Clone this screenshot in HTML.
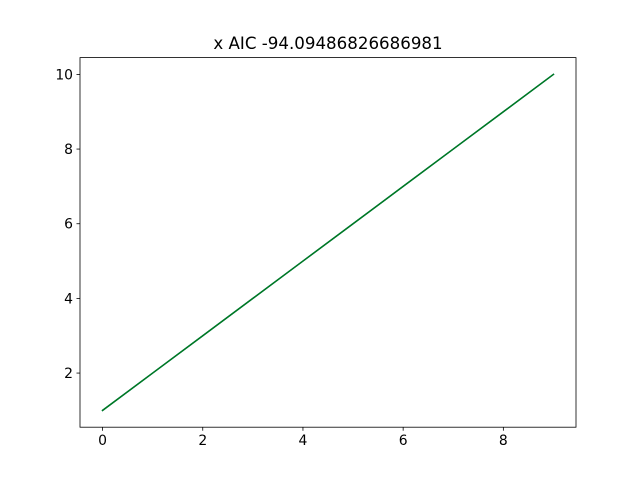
<!DOCTYPE html>
<html>
<head>
<meta charset="utf-8">
<style>
  html, body { margin: 0; padding: 0; background: #fff; }
  svg { display: block; font-family: "DejaVu Sans", "Liberation Sans", sans-serif; }
</style>
</head>
<body>
<svg id="chart" width="640" height="480" viewBox="0 0 640 480">
  <rect width="640" height="480" fill="#fff"/>
  <text x="328" y="49" text-anchor="middle" font-size="16.67" fill="#000">x AIC -94.09486826686981</text>
  <g id="plot"></g>
</svg>
<script>
const xValues = [0, 1, 2, 3, 4, 5, 6, 7, 8, 9];
const seriesA = [1, 2, 3, 4, 5, 6, 7, 8, 9, 10];
const seriesB = [1, 2, 3, 4, 5, 6, 7, 8, 9, 10];
const xTicks = [0, 2, 4, 6, 8];
const yTicks = [2, 4, 6, 8, 10];

const NS = 'http://www.w3.org/2000/svg';
const L = 80, R = 576, T = 57.6, B = 427.2;
const xMin = -0.45, xMax = 9.45, yMin = 0.55, yMax = 10.45;
function sx(v) { return L + (v - xMin) / (xMax - xMin) * (R - L); }
function sy(v) { return B - (v - yMin) / (yMax - yMin) * (B - T); }
const g = document.getElementById('plot');
function mk(tag, attrs) {
  const e = document.createElementNS(NS, tag);
  for (const k in attrs) e.setAttribute(k, attrs[k]);
  g.appendChild(e);
  return e;
}

function drawSeries(vals, color, name) {
  const pts = xValues.map((x, i) => sx(x).toFixed(2) + ',' + sy(vals[i]).toFixed(2)).join(' ');
  const p = mk('polyline', { points: pts, fill: 'none', stroke: color, 'stroke-width': 1.5, 'stroke-linejoin': 'round', 'stroke-linecap': 'square' });
  
  
}
drawSeries(seriesA, '#1f77b4', 'series-a-line');
drawSeries(seriesB, '#007a1f', 'series-b-line');

const frame = mk('rect', { x: L, y: T, width: R - L, height: B - T, fill: 'none', stroke: '#000', 'stroke-width': 0.8 });



xTicks.forEach(v => {
  const x = sx(v);
  const t = mk('line', { x1: x, x2: x, y1: B, y2: B + 3.5, stroke: '#000', 'stroke-width': 0.8 });
  
  
  const lb = mk('text', { x: x, y: B + 18, 'text-anchor': 'middle', 'font-size': 13.9, fill: '#000' });
  lb.textContent = v;
  
  
});
yTicks.forEach(v => {
  const y = sy(v);
  const t = mk('line', { x1: L - 3.5, x2: L, y1: y, y2: y, stroke: '#000', 'stroke-width': 0.8 });
  
  
  const lb = mk('text', { x: L - 7, y: y + 5, 'text-anchor': 'end', 'font-size': 13.9, fill: '#000' });
  lb.textContent = v;
  
  
});
</script>
</body>
</html>
